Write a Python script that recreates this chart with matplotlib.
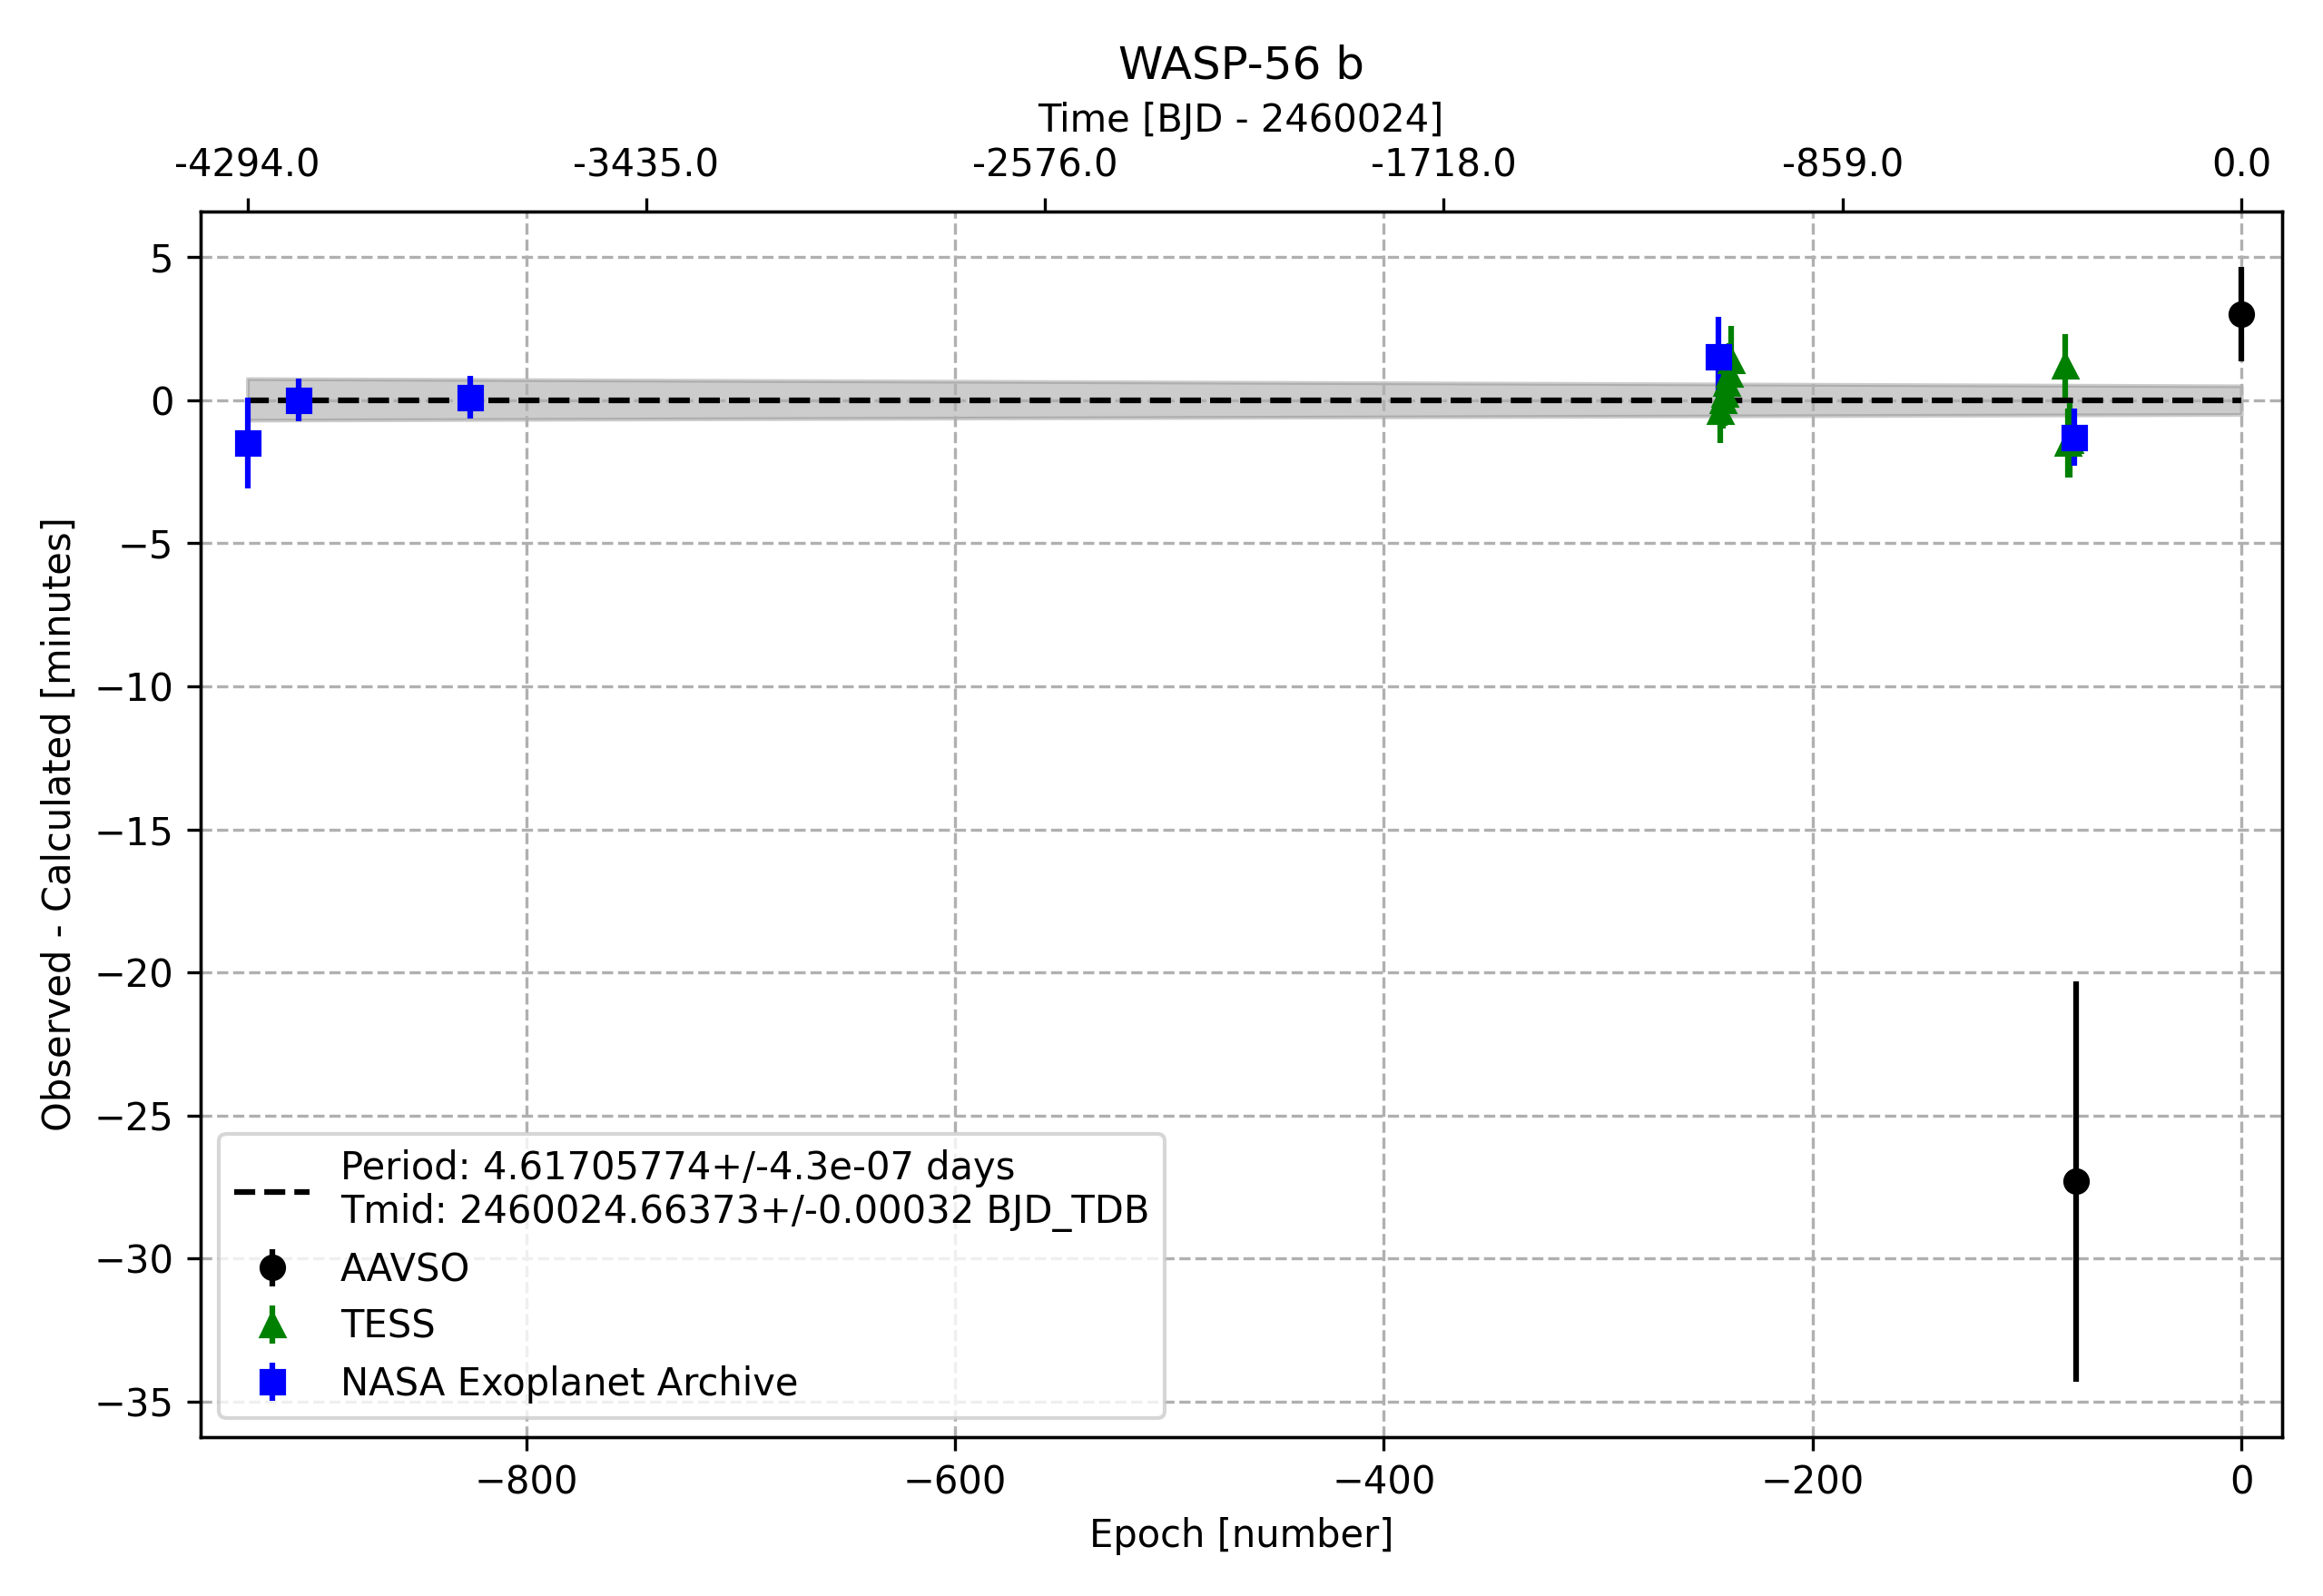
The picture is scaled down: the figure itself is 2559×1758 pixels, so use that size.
import numpy as np
import matplotlib.pyplot as plt

# Inputs
period = 4.61705774
tmid = 2460024.66373

# O-C data per source: epoch, residual [min], error [min]
aavso_epoch = np.array([-77, 0])
aavso_oc = np.array([-27.3, 3.0])
aavso_err = np.array([7.0, 1.65])

tess_epoch = np.array([-243, -242, -241, -240, -239, -238, -82, -81, -80])
tess_oc = np.array([-0.4, 0.0, 0.2, 0.6, 0.9, 1.4, 1.2, -1.5, -1.4])
tess_err = np.array([1.1, 1.0, 1.1, 1.1, 1.1, 1.2, 1.1, 1.2, 1.3])

nasa_epoch = np.array([-930, -906, -826, -244, -78])
nasa_oc = np.array([-1.5, 0.0, 0.1, 1.5, -1.3])
nasa_err = np.array([1.6, 0.75, 0.75, 1.4, 1.0])

#%% Plot
plt.figure(figsize=(8.53, 5.86))
ax = plt.gca()
epochs = np.array([-930, 0])
plt.fill_between(epochs, [-0.7, -0.5], [0.75, 0.5], color='gray', alpha=0.4)
plt.plot(epochs, [0, 0], 'k--',
         label='Period: %.8f+/-4.3e-07 days\nTmid: %.5f+/-0.00032 BJD_TDB' % (period, tmid))
plt.errorbar(aavso_epoch, aavso_oc, yerr=aavso_err, fmt='o', color='black', label='AAVSO')
plt.errorbar(tess_epoch, tess_oc, yerr=tess_err, fmt='^', color='green', label='TESS')
plt.errorbar(nasa_epoch, nasa_oc, yerr=nasa_err, fmt='s', color='blue', label='NASA Exoplanet Archive')

plt.xlim(-952, 19)
plt.xlabel('Epoch [number]')
plt.ylabel('Observed - Calculated [minutes]')
plt.grid(True, ls='--')
plt.legend(loc='lower left')

# top axis in time
ax2 = ax.twiny()
ax2.set_xlim(ax.get_xlim())
ticks = np.linspace(-930, 0, 6)
ax2.set_xticks(ticks)
ax2.set_xticklabels(['%.1f' % round(t * period) for t in ticks])
ax2.set_xlabel('Time [BJD - 2460024]')
plt.title('WASP-56 b')

plt.tight_layout()
plt.savefig('out.png', dpi=300)
